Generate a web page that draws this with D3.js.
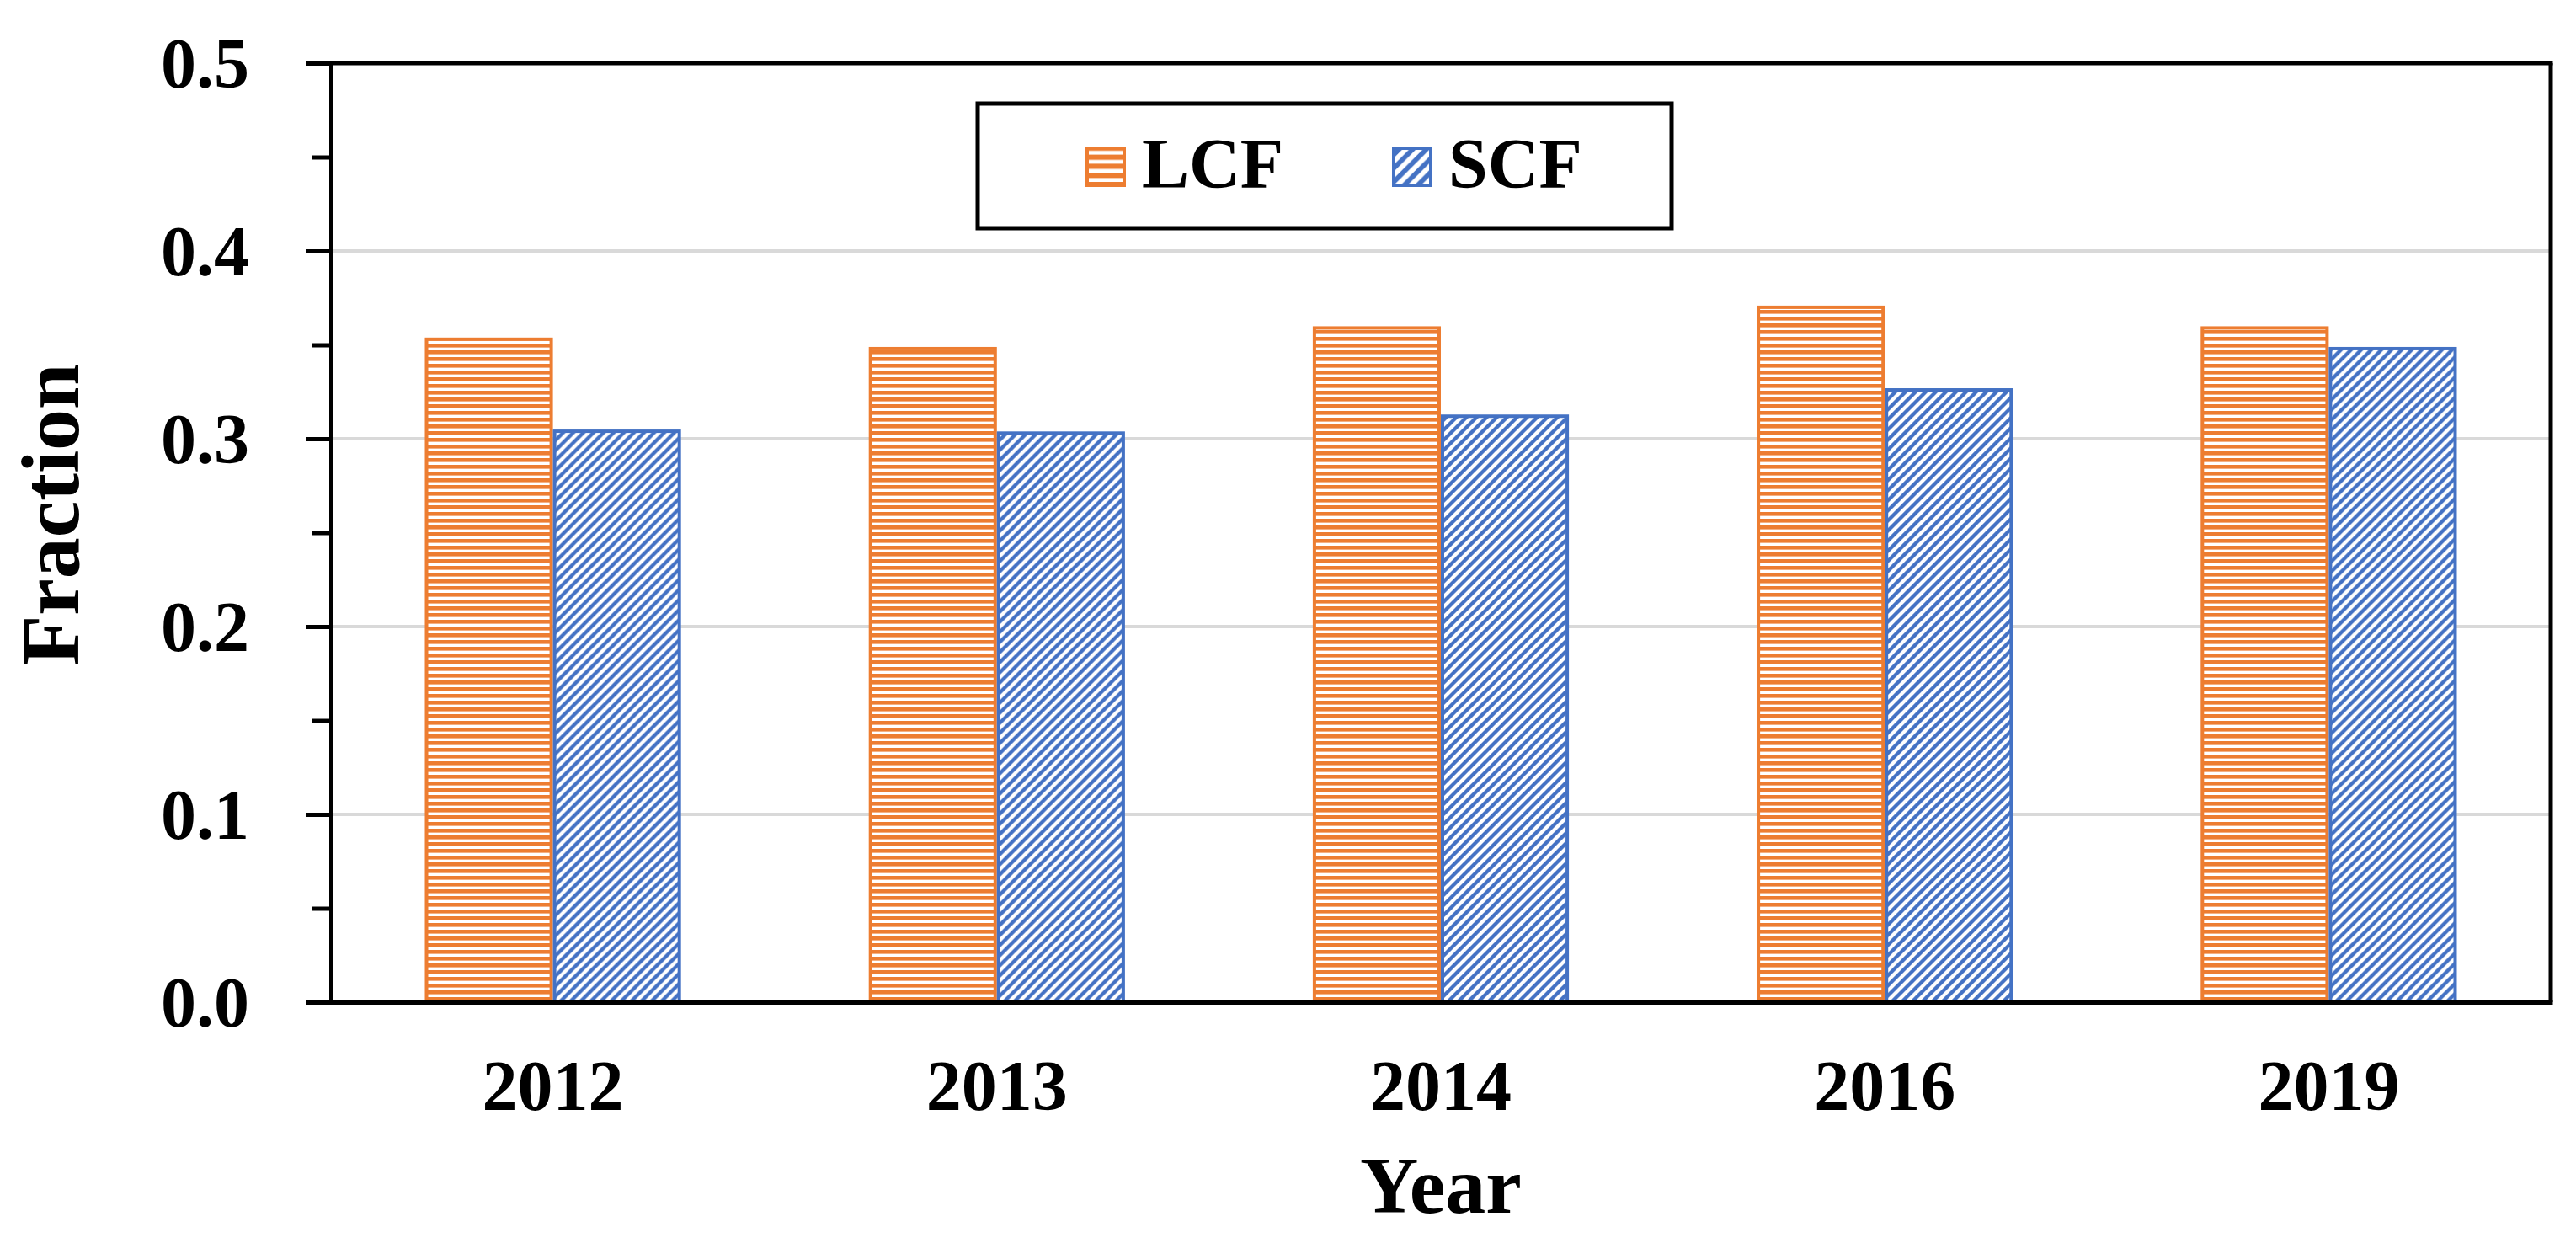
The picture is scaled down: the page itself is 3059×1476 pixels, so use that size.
<!DOCTYPE html>
<html>
<head>
<meta charset="utf-8">
<script src="https://cdn.jsdelivr.net/npm/d3@7"></script>
<style>
  body { margin: 0; background: #fff; }
  text { font-family: "Liberation Serif", "Times New Roman", serif; font-weight: bold; }
</style>
</head>
<body>
<script>
var width = 3059;
var height = 1476;

var years = ["2012", "2013", "2014", "2016", "2019"];
var series = ["LCF", "SCF"];
var lcf = [0.353, 0.348, 0.359, 0.370, 0.359];
var scf = [0.304, 0.303, 0.312, 0.326, 0.348];
var majorTicks = [0, 0.1, 0.2, 0.3, 0.4, 0.5];
var minorTicks = [0.05, 0.15, 0.25, 0.35, 0.45];

var colors = { LCF: "#ED7D31", SCF: "#4472C4" };
// plot box edges (window.top is reserved, so no "top" here)
var plotL = 393, plotR = 3029, plotT = 75, plotB = 1190;

var svg = d3.select("body").append("svg")
    .attr("width", width)
    .attr("height", height);

// hatch patterns, one size for bars and a coarser one for the legend
var defs = svg.append("defs");
function makePatterns(suffix, k) {
    var pL = defs.append("pattern")
        .attr("id", "pat-LCF" + suffix)
        .attr("patternUnits", "userSpaceOnUse")
        .attr("width", 8 * k).attr("height", 8 * k);
    pL.append("rect").attr("width", 8 * k).attr("height", 8 * k).attr("fill", "#fff");
    pL.append("rect").attr("width", 8 * k).attr("height", 4.6 * k).attr("fill", colors.LCF);

    var s = 12 * k;
    var pS = defs.append("pattern")
        .attr("id", "pat-SCF" + suffix)
        .attr("patternUnits", "userSpaceOnUse")
        .attr("width", s).attr("height", s);
    pS.append("rect").attr("width", s).attr("height", s).attr("fill", colors.SCF);
    pS.append("path")
        .attr("d", "M" + (-s) + "," + s + " L" + s + "," + (-s) +
                   " M0," + s + " L" + s + ",0" +
                   " M0," + (2 * s) + " L" + (2 * s) + ",0")
        .attr("stroke", "#fff")
        .attr("stroke-width", 4.2 * k);
}
makePatterns("", 1);
makePatterns("-leg", 1.35);

var x0 = d3.scaleBand()
    .domain(years)
    .range([plotL, plotR])
    .paddingInner(0.423)
    .paddingOuter(0.2115);

var x1 = d3.scaleBand()
    .domain(series)
    .range([0, x0.bandwidth()]);

var y = d3.scaleLinear()
    .domain([0, 0.5])
    .range([plotB, plotT]);

// gridlines
svg.append("g")
    .selectAll("line")
    .data(majorTicks.slice(1, -1))
    .enter().append("line")
    .attr("x1", plotL).attr("x2", plotR)
    .attr("y1", function(d) { return y(d); })
    .attr("y2", function(d) { return y(d); })
    .attr("stroke", "#d9d9d9")
    .attr("stroke-width", 4);

// bars
var rows = years.map(function(yr, i) {
    return { year: yr, values: [{ key: "LCF", v: lcf[i] }, { key: "SCF", v: scf[i] }] };
});

svg.append("g")
    .selectAll("g")
    .data(rows)
    .enter().append("g")
    .attr("transform", function(d) { return "translate(" + x0(d.year) + ",0)"; })
    .selectAll("rect")
    .data(function(d) { return d.values; })
    .enter().append("rect")
    .attr("x", function(d) { return x1(d.key) + 2; })
    .attr("width", x1.bandwidth() - 4)
    .attr("y", function(d) { return y(d.v); })
    .attr("height", function(d) { return plotB - y(d.v); })
    .attr("fill", function(d) { return "url(#pat-" + d.key + ")"; })
    .attr("stroke", function(d) { return colors[d.key]; })
    .attr("stroke-width", 4);

// y axis, major ticks with labels
var yAxis = svg.append("g")
    .attr("transform", "translate(" + plotL + ",0)")
    .call(d3.axisLeft(y)
        .tickValues(majorTicks)
        .tickSize(30)
        .tickPadding(67)
        .tickFormat(d3.format(".1f")));
yAxis.select(".domain").remove();
yAxis.selectAll("line").attr("stroke", "#000").attr("stroke-width", 5);
yAxis.selectAll("text")
    .attr("fill", "#000")
    .style("font-size", "84px")
    .attr("dy", "0.34em");

// minor ticks
var yMinor = svg.append("g")
    .attr("transform", "translate(" + plotL + ",0)")
    .call(d3.axisLeft(y).tickValues(minorTicks).tickSize(22).tickFormat(""));
yMinor.select(".domain").remove();
yMinor.selectAll("line").attr("stroke", "#000").attr("stroke-width", 5);

// x axis labels
var xAxis = svg.append("g")
    .attr("transform", "translate(0," + plotB + ")")
    .call(d3.axisBottom(x0).tickSize(0));
xAxis.select(".domain").remove();
xAxis.selectAll("text")
    .attr("fill", "#000")
    .attr("dy", null)
    .attr("y", 128)
    .style("font-size", "84px");

// plot border
svg.append("line")
    .attr("x1", plotL).attr("x2", plotL).attr("y1", plotT).attr("y2", plotB)
    .attr("stroke", "#000").attr("stroke-width", 4);
svg.append("line")
    .attr("x1", plotR).attr("x2", plotR).attr("y1", plotT).attr("y2", plotB)
    .attr("stroke", "#000").attr("stroke-width", 5);
svg.append("line")
    .attr("x1", plotL).attr("x2", plotR + 2.5).attr("y1", plotT).attr("y2", plotT)
    .attr("stroke", "#000").attr("stroke-width", 5);
svg.append("line")
    .attr("x1", plotL - 30).attr("x2", plotR + 2.5).attr("y1", plotB).attr("y2", plotB)
    .attr("stroke", "#000").attr("stroke-width", 6);

// axis titles
svg.append("text")
    .attr("x", (plotL + plotR) / 2)
    .attr("y", 1440)
    .attr("text-anchor", "middle")
    .style("font-size", "96px")
    .text("Year");

svg.append("text")
    .attr("transform", "translate(93,611) rotate(-90)")
    .attr("text-anchor", "middle")
    .style("font-size", "98px")
    .text("Fraction");

// legend
var legend = svg.append("g");
legend.append("rect")
    .attr("x", 1161).attr("y", 123)
    .attr("width", 824).attr("height", 148)
    .attr("fill", "#fff")
    .attr("stroke", "#000")
    .attr("stroke-width", 5);

var legendX = [1291, 1655];
series.forEach(function(s, i) {
    legend.append("rect")
        .attr("x", legendX[i]).attr("y", 176)
        .attr("width", 44).attr("height", 44)
        .attr("fill", "url(#pat-" + s + "-leg)")
        .attr("stroke", colors[s])
        .attr("stroke-width", 4);
    legend.append("text")
        .attr("x", legendX[i] + 65)
        .attr("y", 223)
        .style("font-size", "84px")
        .text(s);
});
</script>
</body>
</html>
